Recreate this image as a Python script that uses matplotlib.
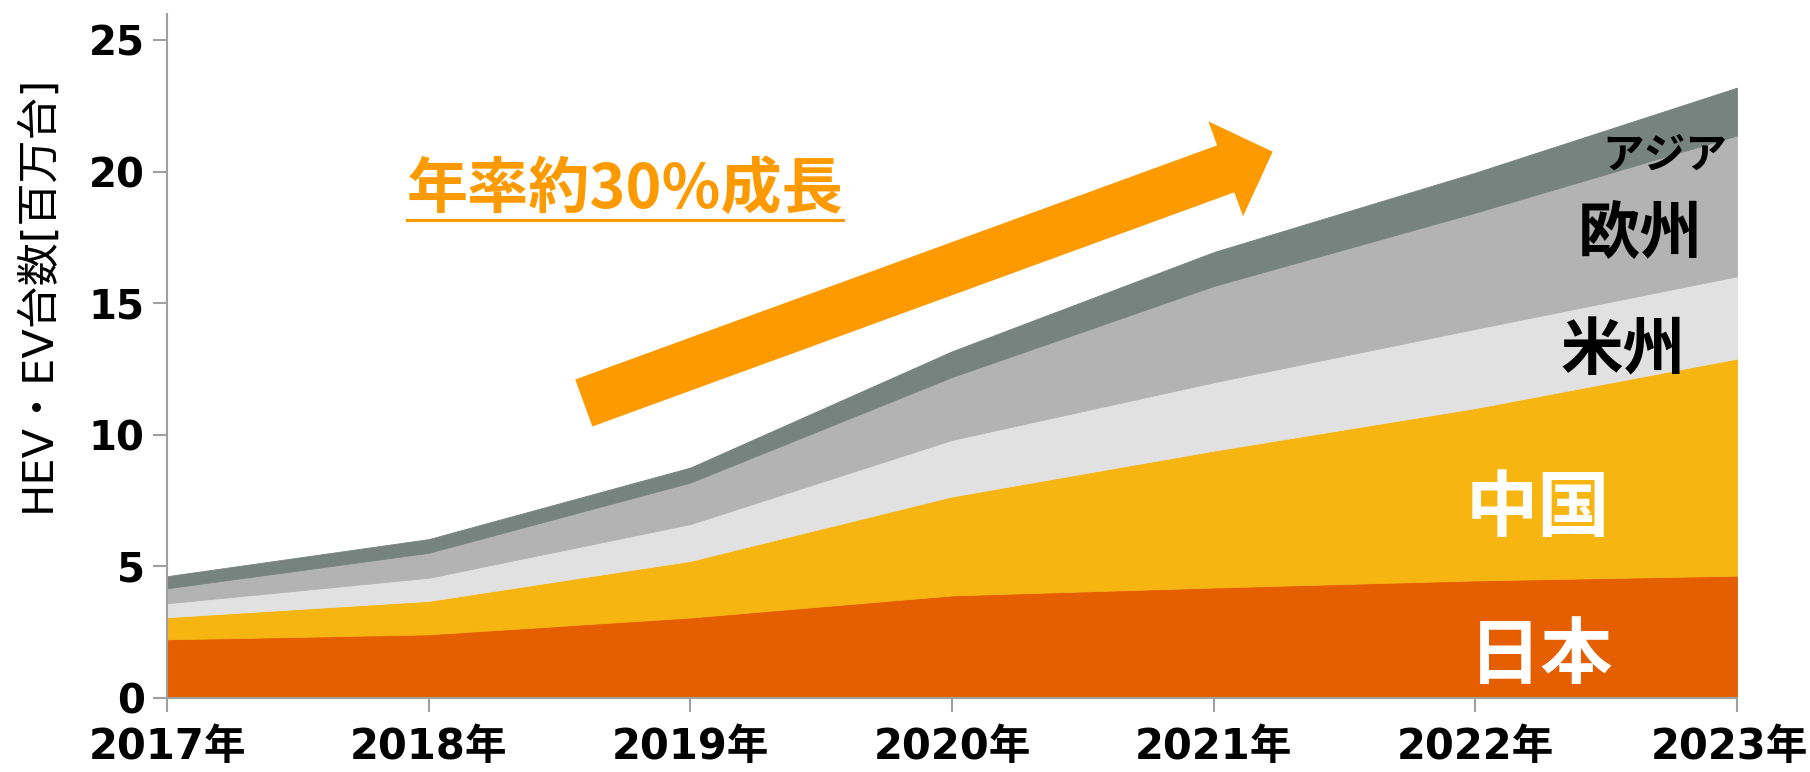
import numpy as np
import matplotlib
matplotlib.use("Agg")
from matplotlib import pyplot as plt
from matplotlib.patches import Polygon
from matplotlib.lines import Line2D
from matplotlib.transforms import ScaledTranslation

plt.rcParams['font.family'] = ['DejaVu Sans', 'Noto Sans CJK JP']

# data (million units)
years = [2017, 2018, 2019, 2020, 2021, 2022, 2023]
year_labels = [f"{y}年" for y in years]
japan = [2.23, 2.42, 3.06, 3.90, 4.20, 4.47, 4.65]
china = [0.84, 1.27, 2.15, 3.76, 5.20, 6.55, 8.25]
america = [0.53, 0.88, 1.40, 2.15, 2.60, 3.01, 3.13]
europe = [0.57, 0.95, 1.58, 2.39, 3.66, 4.42, 5.35]
asia = [0.46, 0.52, 0.57, 0.98, 1.29, 1.52, 1.82]
y_ticks = [0, 5, 10, 15, 20, 25]

colors = ['#E55F00', '#F7B512', '#E1E1E1', '#B3B3B3', '#77837F']
ORANGE = '#FC9A00'

W, H = 1810, 772
fig = plt.figure(figsize=(W / 100, H / 100), dpi=100)
ax = fig.add_axes([167 / W, 1 - 698 / H, (1737 - 167) / W, (698 - 14) / H])

polys = ax.stackplot(years, japan, china, america, europe, asia, colors=colors,
                     linewidth=0.6)
for p, c in zip(polys, colors):
    p.set_edgecolor(c)

ax.set_xlim(years[0], years[-1])
ax.set_ylim(0, 26)
ax.set_xticks(years)
ax.set_xticklabels(year_labels, fontsize=30, fontweight='bold')
ax.set_yticks(y_ticks)
ax.set_yticklabels([str(t) for t in y_ticks], fontsize=29, fontweight='bold')

for s in ['top', 'right']:
    ax.spines[s].set_visible(False)
for s in ['left', 'bottom']:
    ax.spines[s].set_color('#A0A0A0')
    ax.spines[s].set_linewidth(1.5)
ax.tick_params(axis='both', direction='out', length=10, width=1.5, color='#A0A0A0')
ax.tick_params(axis='x', pad=10)
ax.tick_params(axis='y', pad=6)

# keep the last year label inside the canvas
last = ax.get_xticklabels()[-1]
last.set_transform(last.get_transform() + ScaledTranslation(-8 / 100, 0, fig.dpi_scale_trans))

ax.set_ylabel("HEV・EV台数[百万台]", fontsize=31, va='center')
ax.yaxis.set_label_coords((37 - 167) / (1737 - 167), (698 - 293) / (698 - 14))

# region labels
label_kw = dict(ha='center', va='center', fontweight='bold',
                family=['Noto Sans CJK JP'], transform=fig.transFigure)
fig.text(1541 / W, 1 - 657 / H, "日本", color='white', fontsize=52, **label_kw)
fig.text(1538 / W, 1 - 510 / H, "中国", color='white', fontsize=52, **label_kw)
fig.text(1623 / W, 1 - 350 / H, "米州", color='black', fontsize=45, **label_kw)
fig.text(1640 / W, 1 - 234 / H, "欧州", color='black', fontsize=45, **label_kw)
fig.text(1665 / W, 1 - 156 / H, "アジア", color='black', fontsize=30, **label_kw)

# growth arrow (pixel geometry)
tail = np.array([583.8, 403.0])
tip = np.array([1272.7, 151.7])
shaft_w, head_w, head_l = 50.0, 101.0, 50.0
d = tip - tail
u = d / np.linalg.norm(d)
n = np.array([u[1], -u[0]])
base = tip - u * head_l
pts = [tail + n * shaft_w / 2, base + n * shaft_w / 2, base + n * head_w / 2, tip,
       base - n * head_w / 2, base - n * shaft_w / 2, tail - n * shaft_w / 2]
pts = [(x / W, 1 - y / H) for x, y in pts]
fig.add_artist(Polygon(pts, closed=True, facecolor=ORANGE, edgecolor='none',
                       transform=fig.transFigure))

# title-like annotation with underline
t = fig.text(625 / W, 1 - 190 / H, "年率約30%成長", color=ORANGE, fontsize=44,
             fontweight='bold', ha='center', va='center',
             family=['Noto Sans CJK JP'])
fig.canvas.draw()
bb = t.get_window_extent()
fig.add_artist(Line2D([bb.x0 / W, bb.x1 / W], [1 - 220 / H, 1 - 220 / H],
                      color=ORANGE, linewidth=2.2, transform=fig.transFigure))

fig.savefig("out.png", dpi=100)
